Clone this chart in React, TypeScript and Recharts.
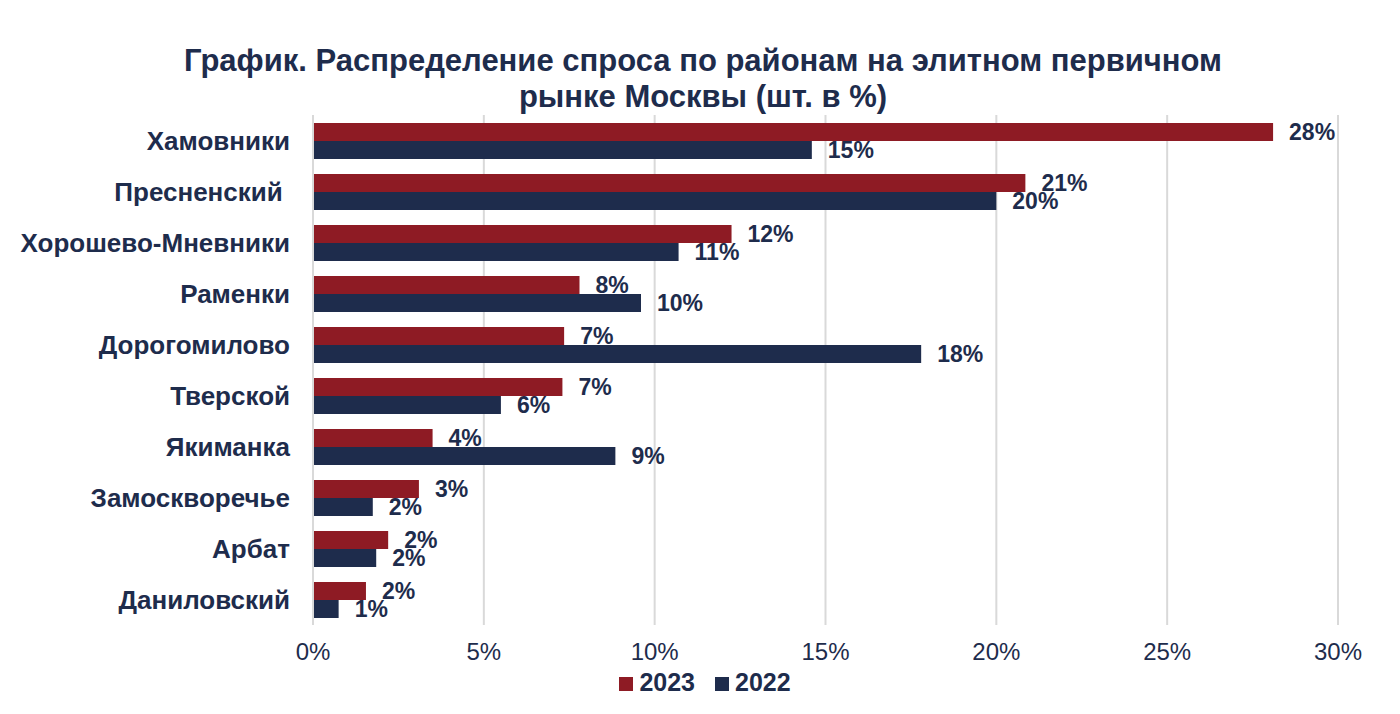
import React from "react";
import { BarChart, Bar, XAxis, YAxis, CartesianGrid, LabelList } from "recharts";

const districts = [
  "Хамовники",
  "Пресненский\u00a0",
  "Хорошево-Мневники",
  "Раменки",
  "Дорогомилово",
  "Тверской",
  "Якиманка",
  "Замоскворечье",
  "Арбат",
  "Даниловский",
];
const share2023 = [28.1, 20.85, 12.25, 7.8, 7.35, 7.3, 3.5, 3.1, 2.2, 1.55];
const share2022 = [14.6, 20.0, 10.7, 9.6, 17.8, 5.5, 8.85, 1.75, 1.85, 0.75];
const xTicks = [0, 5, 10, 15, 20, 25, 30];

const RED = "#8E1B24";
const NAVY = "#1E2C4C";
const FONT = "'Liberation Sans', Arial, sans-serif";

const data = districts.map((d, i) => ({ name: d, y2023: share2023[i], y2022: share2022[i] }));

const pct = (v: any) => `${Math.round(Number(v))}%`;

export default function App() {
  return (
    <div style={{ position: "absolute", left: 0, top: 0, width: 1400, height: 714, background: "#fff", fontFamily: FONT }}>
      <div
        style={{
          position: "absolute",
          left: 0,
          top: 43,
          width: 1406,
          textAlign: "center",
          color: NAVY,
          fontWeight: 700,
          fontSize: 31,
          lineHeight: "36px",
        }}
      >
        График. Распределение спроса по районам на элитном первичном
        <br />
        рынке Москвы (шт. в %)
      </div>
      <BarChart
        width={1400}
        height={714}
        data={data}
        layout="vertical"
        margin={{ top: 115, right: 62, left: 0, bottom: 59 }}
        barGap={0}
        barSize={18}
      >
        <CartesianGrid horizontal={false} stroke="#D9D9D9" strokeWidth={2} />
        <XAxis
          type="number"
          domain={[0, 30]}
          ticks={xTicks}
          tickFormatter={(v) => `${v}%`}
          axisLine={false}
          tickLine={false}
          tickSize={0}
          tickMargin={18}
          height={30}
          tick={{ fill: NAVY, fontSize: 24, fontFamily: FONT }}
        />
        <YAxis
          type="category"
          dataKey="name"
          width={313}
          axisLine={{ stroke: "#D9D9D9", strokeWidth: 2 }}
          tickLine={false}
          tickSize={0}
          tickMargin={23}
          tick={{ fill: NAVY, fontSize: 26, fontWeight: 700, fontFamily: FONT }}
        />
        <Bar dataKey="y2023" fill={RED} isAnimationActive={false}>
          <LabelList
            dataKey="y2023"
            position="right"
            offset={16}
            formatter={pct}
            style={{ fill: NAVY, fontSize: 23, fontWeight: 700, fontFamily: FONT }}
          />
        </Bar>
        <Bar dataKey="y2022" fill={NAVY} isAnimationActive={false}>
          <LabelList
            dataKey="y2022"
            position="right"
            offset={16}
            formatter={pct}
            style={{ fill: NAVY, fontSize: 23, fontWeight: 700, fontFamily: FONT }}
          />
        </Bar>
      </BarChart>
      <div
        style={{
          position: "absolute",
          left: 0,
          top: 668,
          width: 1410,
          display: "flex",
          justifyContent: "center",
          gap: 20,
          color: NAVY,
          fontWeight: 700,
          fontSize: 25,
        }}
      >
        {[
          { label: "2023", color: RED },
          { label: "2022", color: NAVY },
        ].map((it) => (
          <div key={it.label} style={{ display: "flex", alignItems: "center", gap: 6 }}>
            <span style={{ width: 14, height: 14, background: it.color, display: "inline-block", marginTop: 3 }} />
            <span>{it.label}</span>
          </div>
        ))}
      </div>
    </div>
  );
}
